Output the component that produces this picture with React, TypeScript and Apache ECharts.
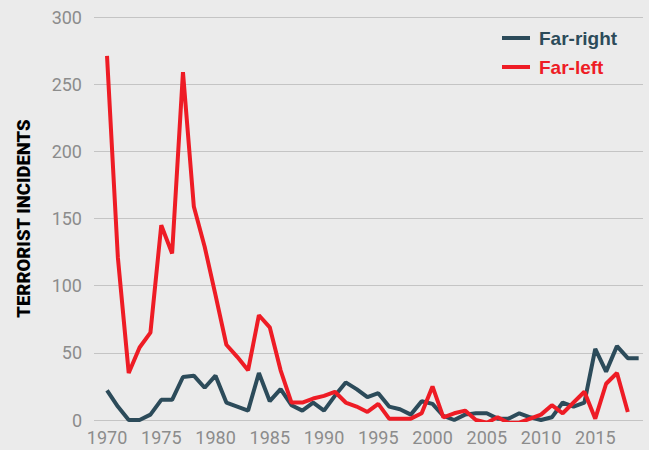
import React, { useEffect, useRef } from "react";
import * as echarts from "echarts";

const years: number[] = [];
for (let y = 1970; y <= 2019; y++) years.push(y);

const farRight = [
  22, 10, 0, 0, 4, 15, 15, 32, 33, 24,
  33, 13, 10, 7, 35, 14, 23, 11, 7, 13,
  7, 18, 28, 23, 17, 20, 10, 8, 4, 14,
  12, 3, 0, 4, 5, 5, 1, 1, 5, 2,
  0, 2, 13, 10, 13, 53, 36, 55, 46, 46,
];

const farLeft: (number | null)[] = [
  271, 121, 35, 54, 65, 145, 124, 259, 159, 129,
  93, 56, 47, 37, 78, 69, 37, 13, 13, 16,
  18, 21, 13, 10, 6, 12, 1, 1, 1, 5,
  25, 2, 5, 7, 0, -2, 2, -2, -2, 1,
  4, 11, 5, 13, 21, 1, 27, 35, 6, null,
];

const xTickLabels = [1970, 1975, 1980, 1985, 1990, 1995, 2000, 2005, 2010, 2015];
const yTicks = { min: 0, max: 300, interval: 50 };

const seriesNames = ["Far-right", "Far-left"];
const colors = ["#2c4b5a", "#ee1c25"];

export default function App() {
  const ref = useRef<HTMLDivElement>(null);
  useEffect(() => {
    if (!ref.current) return;
    const chart = echarts.init(ref.current, undefined, { renderer: "svg" });
    const pairs = (vals: (number | null)[]) =>
      years.map((y, i) => [y, vals[i]]).filter((p) => p[1] !== null);
    chart.setOption({
      animation: false,
      backgroundColor: "#ebebeb",
      grid: { left: 94, right: 6, top: 17, bottom: 30, containLabel: false },
      legend: {
        orient: "vertical",
        left: 502,
        top: 28,
        padding: 0,
        itemWidth: 28,
        itemHeight: 4,
        itemGap: 9,
        icon: "rect",
        data: [
          { name: seriesNames[0], textStyle: { color: colors[0] } },
          { name: seriesNames[1], textStyle: { color: colors[1] } },
        ],
        textStyle: {
          fontFamily: "Liberation Sans",
          fontWeight: "bold",
          fontSize: 19,
          lineHeight: 20,
          padding: [0, 0, 0, 4],
        },
      },
      xAxis: {
        type: "value",
        min: 1968.8,
        max: 2019.4,
        axisLine: { show: false },
        axisTick: { show: false },
        splitLine: { show: false },
        axisLabel: {
          customValues: xTickLabels,
          color: "#8c8c8c",
          fontFamily: "Roboto",
          fontSize: 18,
          margin: 8,
          formatter: (v: number) => String(v),
        },
      },
      yAxis: {
        type: "value",
        min: yTicks.min,
        max: yTicks.max,
        interval: yTicks.interval,
        name: "TERRORIST INCIDENTS",
        nameLocation: "middle",
        nameGap: 61,
        nameTextStyle: {
          color: "#000",
          fontWeight: 900,
          fontFamily: "Roboto",
          fontSize: 18.5,
        },
        axisLine: { show: false },
        axisTick: { show: false },
        splitLine: { lineStyle: { color: "#c4c4c4", width: 1 } },
        axisLabel: {
          color: "#8c8c8c",
          fontFamily: "Roboto",
          fontSize: 18,
          margin: 12,
        },
      },
      series: [
        {
          name: seriesNames[0],
          type: "line",
          data: pairs(farRight),
          showSymbol: false,
          symbol: "none",
          color: colors[0],
          lineStyle: { color: colors[0], width: 4 },
        },
        {
          name: seriesNames[1],
          type: "line",
          data: pairs(farLeft),
          showSymbol: false,
          symbol: "none",
          color: colors[1],
          lineStyle: { color: colors[1], width: 4 },
        },
      ],
    });
    return () => chart.dispose();
  }, []);
  return (
    <div
      ref={ref}
      style={{ position: "fixed", left: 0, top: 0, width: 649, height: 450 }}
    />
  );
}
